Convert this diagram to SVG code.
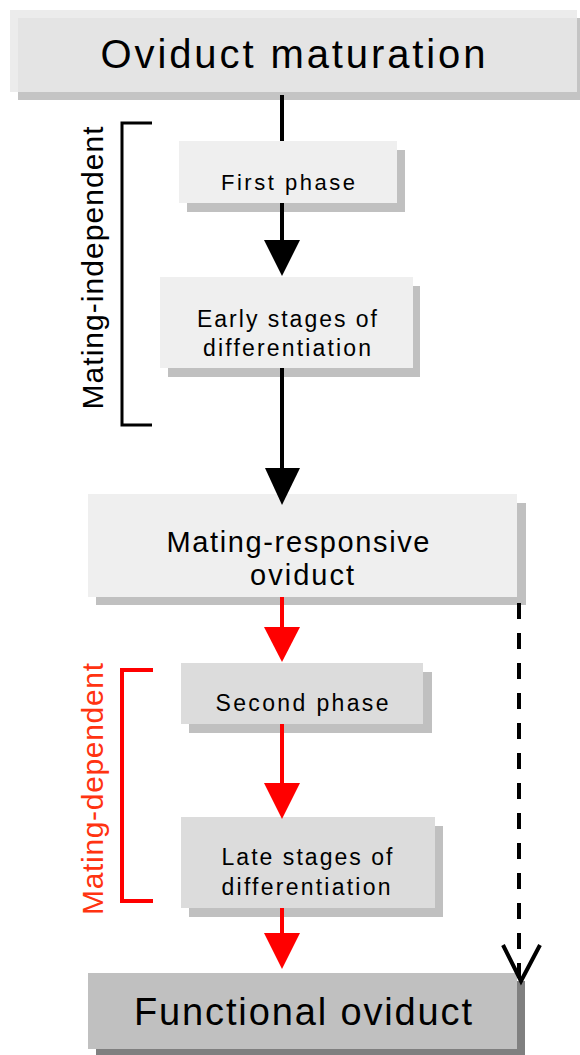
<svg xmlns="http://www.w3.org/2000/svg" width="580" height="1055" viewBox="0 0 580 1055">
<style>
text{font-family:"Liberation Sans",Arial,Helvetica,sans-serif;fill:#000;text-anchor:middle}
.sh{fill:#c0c0c0}
.lt{fill:#efefef}
.md{fill:#dcdcdc}
.blk{stroke:#000;stroke-width:4;fill:none}
.red{stroke:#ff0000;stroke-width:4;fill:none}
.hb{fill:#000}
.hr{fill:#ff0000}
</style>
<rect width="580" height="1055" fill="#fff"/>
<g id="node-oviduct-maturation">
<rect x="18" y="18" width="562" height="82" fill="#c4c4c4"/>
<rect x="10" y="10" width="567" height="82" fill="#e9e9e9" fill-opacity="0.86"/>
<text x="293" y="68" font-size="40" textLength="385" lengthAdjust="spacing">Oviduct maturation</text>
</g>
<g id="node-first-phase">
<rect class="sh" x="187" y="150" width="218" height="62"/>
<rect class="lt" x="179" y="141" width="218" height="62"/>
<text x="288" y="190" font-size="22" textLength="134" lengthAdjust="spacing">First phase</text>
</g>
<g id="node-early-stages">
<rect class="sh" x="168" y="286" width="252" height="91"/>
<rect class="lt" x="160" y="277" width="253" height="91"/>
<text x="287" y="327" font-size="23" textLength="180" lengthAdjust="spacing">Early stages of</text>
<text x="287" y="356" font-size="23" textLength="168" lengthAdjust="spacing">differentiation</text>
</g>
<g id="node-mating-responsive">
<rect class="sh" x="96" y="503" width="430" height="102"/>
<rect class="lt" x="88" y="494" width="429" height="103"/>
<text x="298" y="552" font-size="29" textLength="263" lengthAdjust="spacing">Mating-responsive</text>
<text x="302" y="585" font-size="29" textLength="104" lengthAdjust="spacing">oviduct</text>
</g>
<g id="node-second-phase">
<rect class="sh" x="189" y="672" width="243" height="61"/>
<rect class="md" x="181" y="663" width="242" height="61"/>
<text x="302" y="711" font-size="23" textLength="173" lengthAdjust="spacing">Second phase</text>
</g>
<g id="node-late-stages">
<rect class="sh" x="189" y="826" width="254" height="91"/>
<rect class="md" x="181" y="817" width="254" height="91"/>
<text x="307" y="865" font-size="23" textLength="171" lengthAdjust="spacing">Late stages of</text>
<text x="306" y="895" font-size="23" textLength="169" lengthAdjust="spacing">differentiation</text>
</g>
<g id="node-functional-oviduct">
<rect x="96" y="981" width="429" height="76" fill="#808080"/>
<rect x="88" y="973" width="429" height="76" fill="#c0c0c0"/>
<text x="303" y="1025" font-size="38" textLength="338" lengthAdjust="spacing">Functional oviduct</text>
</g>
<g id="bracket-mating-independent">
<polyline points="152,123 122,123 122,425 152,425" stroke="#000" stroke-width="3" fill="none"/>
<text transform="translate(103,268) rotate(-90)" x="0" y="0" font-size="30" textLength="283" lengthAdjust="spacing">Mating-independent</text>
</g>
<g id="bracket-mating-dependent">
<polyline points="153,670 122,670 122,901 153,901" stroke="#ff0000" stroke-width="4" fill="none"/>
<text transform="translate(103,789) rotate(-90)" x="0" y="0" font-size="30" textLength="252" lengthAdjust="spacing" style="fill:#ff3311">Mating-dependent</text>
</g>
<g id="connectors">
<line class="blk" x1="282" y1="95" x2="282" y2="141"/>
<line class="blk" x1="282" y1="203" x2="282" y2="242"/>
<polygon class="hb" points="264,240 300,240 282,276"/>
<line class="blk" x1="282" y1="368" x2="282" y2="470"/>
<polygon class="hb" points="265,468 300,468 282,505"/>
<line class="red" x1="282" y1="597" x2="282" y2="629"/>
<polygon class="hr" points="264,627 300,627 282,662"/>
<line class="red" x1="282" y1="724" x2="282" y2="785"/>
<polygon class="hr" points="264,783 300,783 282,819"/>
<line class="red" x1="282" y1="908" x2="282" y2="935"/>
<polygon class="hr" points="264,933 300,933 282,969"/>
<line class="blk" x1="519" y1="603" x2="519" y2="978" stroke-dasharray="16 14"/>
<polyline class="blk" points="503,945 521,981 540,945"/>
</g>
</svg>
